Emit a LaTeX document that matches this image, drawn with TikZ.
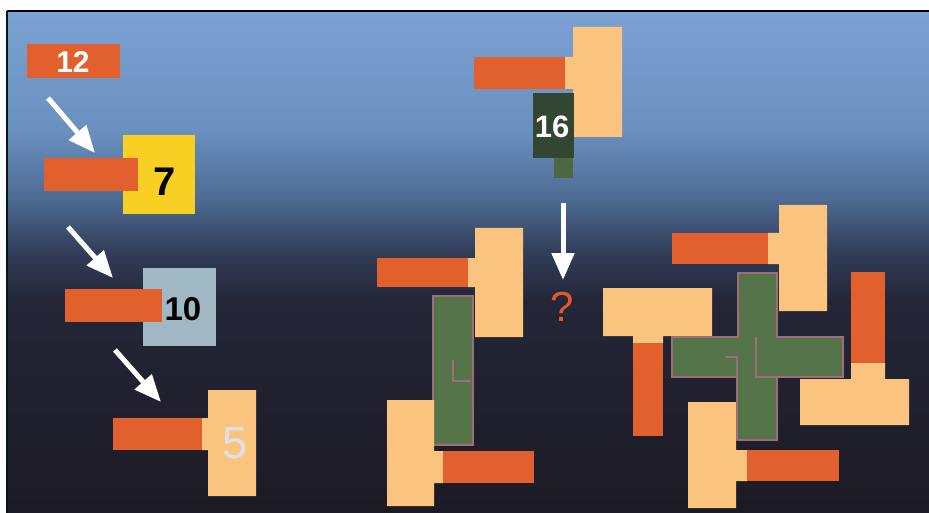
\documentclass[tikz,border=0pt]{standalone}
\usepackage{fontspec}
\setmainfont{Liberation Sans}
\usetikzlibrary{arrows.meta}
\definecolor{tanc}{RGB}{250,196,126}
\definecolor{orng}{RGB}{226,96,46}
\definecolor{yel}{RGB}{248,208,36}
\definecolor{gry}{RGB}{160,184,196}
\definecolor{grn}{RGB}{86,116,74}
\definecolor{dgrn}{RGB}{50,70,50}
\definecolor{mgrn}{RGB}{76,104,66}
\definecolor{seamc}{RGB}{160,108,124}
\definecolor{bga}{RGB}{124,162,212}
\definecolor{bgb}{RGB}{106,144,192}
\definecolor{bgc}{RGB}{76,106,146}
\definecolor{bgd}{RGB}{50,62,90}
\definecolor{bge}{RGB}{36,38,56}
\definecolor{bgf}{RGB}{28,26,36}
\definecolor{qmark}{RGB}{224,90,40}
\definecolor{fivec}{RGB}{222,224,234}
\tikzset{
  tanpc/.style={fill=tanc},
  orpc/.style={fill=orng},
  grnpc/.style={fill=grn, draw=seamc, line width=1.8pt},
  seamline/.style={draw=seamc, line width=1.2pt},
  warrow/.style={draw=white, line width=5pt, -{Triangle[width=22pt,length=27pt,fill=white]}},
  bignum/.style={inner sep=0pt, font=\bfseries\fontsize{#1}{#1}\selectfont},
}
\begin{document}
\begin{tikzpicture}[x=1pt,y=-1pt]
\useasboundingbox (0,0) rectangle (929,513);
\fill[white] (0,0) rectangle (929,513);
% background gradient
\shade[top color=bga,bottom color=bgb] (7,11) rectangle (929,131);
\shade[top color=bgb,bottom color=bgc] (7,130) rectangle (929,201);
\shade[top color=bgc,bottom color=bgd] (7,200) rectangle (929,251);
\shade[top color=bgd,bottom color=bge] (7,250) rectangle (929,301);
\shade[top color=bge,bottom color=bgf] (7,300) rectangle (929,513);
\draw[black, line width=2pt] (7,11) -- (929,11);
\draw[black!80!teal, line width=2pt] (7,11) -- (7,513);

% ---- left column ----
\fill[orpc] (27,44) rectangle (120,78);
\node[bignum=30, white] (n12) at (73,62) {12};
\coordinate (a1s) at (48,98);
\coordinate (a1e) at (95,153);
\draw[warrow] (a1s) -- (a1e);

\fill[yel] (123,135) rectangle (195,214);
\fill[orpc] (44,158) rectangle (138,191);
\node[bignum=40, black] (n7) at (165,182) {7};
\coordinate (a2s) at (68,227);
\coordinate (a2e) at (113,278);
\draw[warrow] (a2s) -- (a2e);

\fill[gry] (143,268) rectangle (216,346);
\fill[orpc] (65,289) rectangle (162,322);
\node[bignum=33, black] (n10) at (183,309) {10};
\coordinate (a3s) at (115,350);
\coordinate (a3e) at (161,402);
\draw[warrow] (a3s) -- (a3e);

\fill[tanpc] (208,390) -- (256,390) -- (256,496) -- (208,496) -- (208,450) -- (202,450) -- (202,418) -- (208,418) -- cycle;
\fill[orpc] (113,418) rectangle (202,450);
\node[inner sep=0pt, font=\fontsize{45}{45}\selectfont, text=fivec] (n5) at (235,443) {5};

% ---- top middle: 16 ----
\fill[tanpc] (573,27) -- (622,27) -- (622,137) -- (573,137) -- (573,89) -- (565,89) -- (565,57) -- (573,57) -- cycle;
\fill[orpc] (474,57) rectangle (565,89);
\fill[dgrn] (533,93) rectangle (574,158);
\fill[mgrn] (554,158) rectangle (573,178);
\node[bignum=31, white] (n16) at (552,127) {16};
\coordinate (a4s) at (563,203);
\coordinate (a4e) at (563,280);
\draw[warrow] (a4s) -- (a4e);
\node[inner sep=0pt, font=\fontsize{42}{42}\selectfont, text=qmark] (q) at (562,307) {?};

% ---- middle figure ----
\fill[tanpc] (475,228) -- (523,228) -- (523,337) -- (475,337) -- (475,287) -- (468,287) -- (468,258) -- (475,258) -- cycle;
\fill[orpc] (377,258) rectangle (468,287);
\path[grnpc] (433,296) rectangle (473,445);
\draw[seamline] (453,360) -- (453,381) -- (471,381);
\fill[tanpc] (387,400) -- (434,400) -- (434,451) -- (443,451) -- (443,483) -- (434,483) -- (434,506) -- (387,506) -- cycle;
\fill[orpc] (443,451) rectangle (534,483);

% ---- right figure ----
\fill[tanpc] (779,205) -- (827,205) -- (827,311) -- (779,311) -- (779,264) -- (768,264) -- (768,233) -- (779,233) -- cycle;
\fill[orpc] (672,233) rectangle (768,264);
\fill[orpc] (851,272) rectangle (885,363);
\fill[tanpc] (851,363) -- (885,363) -- (885,379) -- (909,379) -- (909,425) -- (800,425) -- (800,379) -- (851,379) -- cycle;
\fill[tanpc] (603,288) -- (712,288) -- (712,336) -- (663,336) -- (663,343) -- (633,343) -- (633,336) -- (603,336) -- cycle;
\fill[orpc] (633,343) rectangle (663,436);
\fill[tanpc] (688,402) -- (736,402) -- (736,450) -- (747,450) -- (747,481) -- (736,481) -- (736,508) -- (688,508) -- cycle;
\fill[orpc] (747,450) rectangle (839,481);
\path[grnpc] (738,273) -- (777,273) -- (777,337) -- (843,337) -- (843,377) -- (777,377) -- (777,440) -- (737,440) -- (737,377) -- (672,377) -- (672,337) -- (738,337) -- cycle;
\draw[seamline] (756,337) -- (756,377) -- (777,377);
\draw[seamline] (725,357) -- (737,357) -- (737,377);
\end{tikzpicture}
\end{document}
